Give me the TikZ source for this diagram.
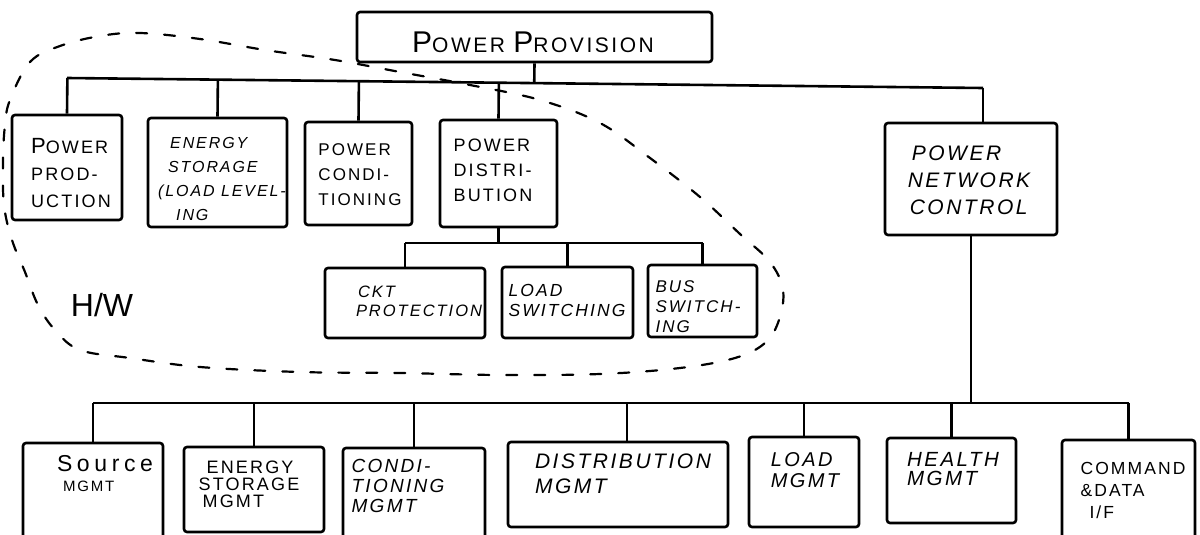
\documentclass[tikz,border=0pt]{standalone}
\usepackage{fontspec}
\setmainfont{Liberation Sans}
\newfontfamily\hw[LetterSpace=12]{Liberation Sans}
\usetikzlibrary{calc}
\newcommand{\fsz}[2]{\fontsize{#1}{#2}\selectfont}
\begin{document}
\begin{tikzpicture}[x=1pt,y=-1pt,
  box/.style={draw, line width=2.6pt, rounded corners=3pt, inner sep=0pt},
  wire/.style={line width=2.6pt},
  hwline/.style={line width=2.2pt, dash pattern=on 11pt off 17pt, line cap=round},
  txt/.style={inner sep=0pt, align=left}]
\clip (0,0) rectangle (1200,535);
\fill[white] (0,0) rectangle (1200,535);

% dashed H/W boundary
\draw[hwline] plot[smooth cycle, tension=0.6] coordinates {
  (10,100) (30,62) (60,46) (100,36) (140,33) (200,39) (265,50) (335,60)
  (400,72) (470,85) (540,100) (600,123) (650,158) (700,197) (740,234)
  (770,262) (783,290) (779,320) (765,343) (735,358) (680,368) (600,374)
  (500,375) (400,373) (300,372) (200,367) (130,358) (80,350) (55,330)
  (38,305) (25,272) (12,240) (4,205) (3,160) (5,125)};

% boxes
\node[box, minimum width=355, minimum height=50] (pp) at (534.5,37) {};
\node[box, minimum width=110, minimum height=105] (prod) at (67,167.5) {};
\node[box, minimum width=139, minimum height=109] (es) at (217.5,172.5) {};
\node[box, minimum width=107, minimum height=103] (cond) at (358.5,173.5) {};
\node[box, minimum width=117, minimum height=107] (dist) at (498.5,173.5) {};
\node[box, minimum width=172, minimum height=112] (pnc) at (971,179) {};
\node[box, minimum width=160, minimum height=70] (ckt) at (405,303) {};
\node[box, minimum width=131, minimum height=71] (lsw) at (567.5,302.5) {};
\node[box, minimum width=109, minimum height=72] (bsw) at (702.5,301) {};
\node[box, minimum width=140, minimum height=102] (src) at (93,494) {};
\node[box, minimum width=140, minimum height=85] (esm) at (254,489.5) {};
\node[box, minimum width=142, minimum height=97] (cm) at (414,496.5) {};
\node[box, minimum width=220, minimum height=85] (dm) at (618,484.5) {};
\node[box, minimum width=110, minimum height=90] (lm) at (804,482) {};
\node[box, minimum width=129, minimum height=85] (hm) at (951.5,480.5) {};
\node[box, minimum width=133, minimum height=105] (cmd) at (1128.5,492.5) {};

% texts
\node[txt, font={\hw\fsz{21}{21}}] (ppt) at (533,42) {{\fsz{30}{30}P}OWER {\fsz{30}{30}P}ROVISION};
\node[txt, font={\hw\fsz{18}{27}}] (prodt) at (71,173) {{\fsz{22}{22}P}OWER\\PROD-\\UCTION};
\node[txt, font={\hw\itshape\fsz{16}{24}}] (est) at (222,179) {\hspace*{12pt}ENERGY\\\hspace*{10pt}STORAGE\\(LOAD LEVEL-\\\hspace*{18pt}ING};
\node[txt, font={\hw\fsz{17}{25}}] (condt) at (360,175) {POWER\\CONDI-\\TIONING};
\node[txt, font={\hw\fsz{18}{25}}] (distt) at (493,170) {POWER\\DISTRI-\\BUTION};
\node[txt, font={\hw\itshape\fsz{21}{27}}] (pnct) at (969,180) {\hspace*{4pt}POWER\\NETWORK\\\hspace*{2pt}CONTROL};
\node[txt, font={\hw\itshape\fsz{16.5}{19}}] (cktt) at (419,301) {\hspace*{2pt}CKT\\PROTECTION};
\node[txt, font={\hw\itshape\fsz{17.5}{20}}] (lswt) at (567,300) {LOAD\\SWITCHING};
\node[txt, font={\hw\itshape\fsz{17}{20}}] (bswt) at (698,307) {BUS\\SWITCH-\\ING};
\node[txt, font={\fsz{32}{32}}] (hwt) at (102,305) {H/W};
\node[txt, font={\hw\fsz{15}{20}}] (srct) at (105,474) {{\fsz{23}{23}\addfontfeature{LetterSpace=20}Source}\\\hspace*{6pt}MGMT};
\node[txt, font={\hw\fsz{18}{17}}] (esmt) at (249,484) {\hspace*{8pt}ENERGY\\STORAGE\\\hspace*{4pt}MGMT};
\node[txt, font={\hw\itshape\fsz{19}{20}}] (cmt) at (398,486) {CONDI-\\TIONING\\MGMT};
\node[txt, font={\hw\itshape\fsz{21}{25}}] (dmt) at (623,474) {DISTRIBUTION\\MGMT};
\node[txt, font={\hw\itshape\fsz{20}{21}}] (lmt) at (805,470) {LOAD\\MGMT};
\node[txt, font={\hw\itshape\fsz{20.5}{19}}] (hmt) at (953,469) {HEALTH\\MGMT};
\node[txt, font={\hw\fsz{17.5}{22}}] (cmdt) at (1133,490) {COMMAND\\\&DATA\\\hspace*{9pt}I/F};

% top tree
\coordinate (pnctop) at ([xshift=12pt]pnc.north);
\coordinate (t1) at (prod.north |- 0,78);
\coordinate (t5) at (pnctop |- 0,88);
\draw[wire] (t1) -- (t5);
\draw[wire] (pp.south) -- ($(t1)!(pp.south)!(t5)$);
\foreach \b in {prod,es,cond,dist}
  \draw[wire] (\b.north) -- ($(t1)!(\b.north)!(t5)$);
\draw[wire] (pnctop) -- (t5);

% distribution subtree
\coordinate (d1) at (ckt.north |- 0,243);
\coordinate (d3) at (bsw.north |- 0,243);
\draw[wire] (d1) -- (d3);
\draw[wire] (dist.south) -- (dist.south |- d1);
\foreach \b in {ckt,lsw,bsw}
  \draw[wire] (\b.north) -- (\b.north |- d1);

% network control subtree
\coordinate (b1) at (src.north |- 0,403);
\coordinate (b7) at (cmd.north |- 0,403);
\draw[wire] (b1) -- (b7);
\draw[wire] (pnc.south) -- (pnc.south |- b1);
\foreach \b in {src,esm,cm,lm,hm,cmd}
  \draw[wire] (\b.north) -- (\b.north |- b1);
\draw[wire] ([xshift=9pt]dm.north) -- ([xshift=9pt]dm.north |- b1);
\end{tikzpicture}
\end{document}
